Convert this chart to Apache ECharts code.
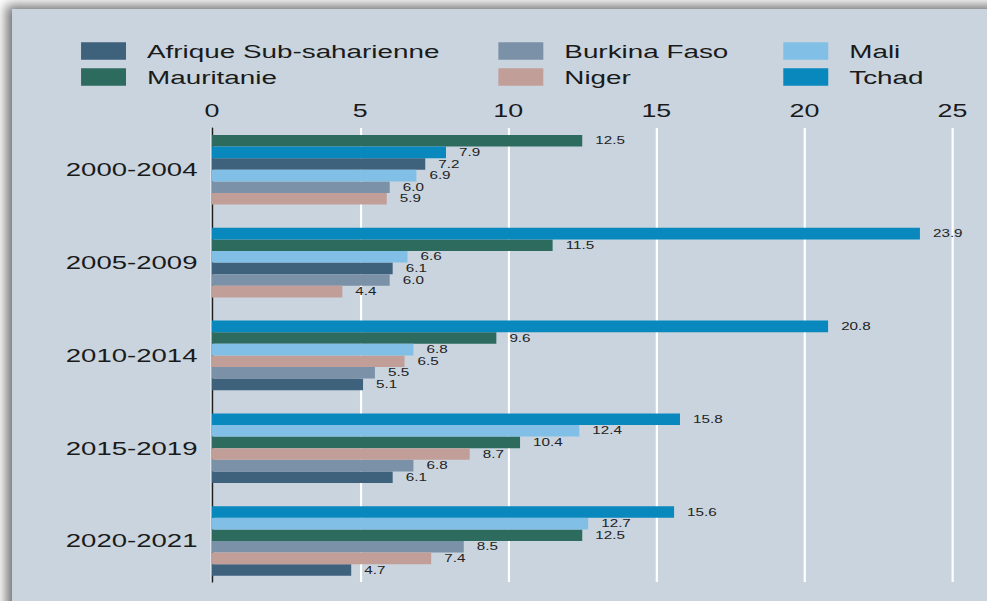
<!DOCTYPE html>
<html>
<head>
<meta charset="utf-8">
<title>Sahel</title>
<script src="https://cdn.jsdelivr.net/npm/echarts@6/dist/echarts.min.js"></script>
<style>
  html, body { margin:0; padding:0; width:987px; height:601px; overflow:hidden; background:#fff; }
  .panel { position:absolute; left:12px; top:9px; width:1000px; height:620px; background:#c9d4df;
           box-shadow:-6px -4px 11px rgba(0,0,0,0.55); }
  /* the original picture is stretched sideways, so the chart is drawn narrow and scaled */
  #chart { position:absolute; left:0; top:0; width:680.7px; height:601px; transform:scaleX(1.45); transform-origin:0 0; }
</style>
</head>
<body>
<div class="panel"></div>
<div id="chart"></div>
<script>
// data
const periods = ['2000-2004', '2005-2009', '2010-2014', '2015-2019', '2020-2021']
const countries = ['Afrique Sub-saharienne', 'Mauritanie', 'Burkina Faso', 'Niger', 'Mali', 'Tchad']
const afrique = [7.2, 6.1, 5.1, 6.1, 4.7]
const mauritanie = [12.5, 11.5, 9.6, 10.4, 12.5]
const burkina = [6.0, 6.0, 5.5, 6.8, 8.5]
const niger = [5.9, 4.4, 6.5, 8.7, 7.4]
const mali = [6.9, 6.6, 6.8, 12.4, 12.7]
const tchad = [7.9, 23.9, 20.8, 15.8, 15.6]
const xTicks = [0, 5, 10, 15, 20, 25]

const values = [afrique, mauritanie, burkina, niger, mali, tchad]
const colors = ['#3e617c', '#2d6b5f', '#7b91a7', '#c19f98', '#82bfe6', '#0888bd']
const font = "'Liberation Sans', Arial, sans-serif"

// each period gets 8 slots: a gap, 6 bars sorted by value, a gap
const SLOTS = 8
const slotCats = []
for (let i = 0; i < periods.length * SLOTS; i++) slotCats.push(String(i))
const seriesData = countries.map(() => new Array(slotCats.length).fill('-'))
periods.forEach((p, g) => {
  const order = countries.map((c, i) => i).sort((a, b) => values[b][g] - values[a][g])
  order.forEach((ci, rank) => { seriesData[ci][g * SLOTS + 1 + rank] = values[ci][g] })
})

const legendBase = {
  orient: 'vertical', top: 41.5, padding: 0, itemGap: 7,
  itemWidth: 31, itemHeight: 17.6, icon: 'rect',
  textStyle: { fontSize: 19.2, lineHeight: 18, color: '#1a1a1a', fontFamily: font, padding: [0, 0, 0, 9.5] }
}

const chart = echarts.init(document.getElementById('chart'), null, { renderer: 'svg' })
chart.setOption({
  animation: false,
  color: colors,
  legend: [
    Object.assign({ left: 55.9, data: ['Afrique Sub-saharienne', 'Mauritanie'] }, legendBase),
    Object.assign({ left: 343.7, data: ['Burkina Faso', 'Niger'] }, legendBase),
    Object.assign({ left: 540.2, data: ['Mali', 'Tchad'] }, legendBase)
  ],
  grid: [
    { left: 146.2, right: 24.1, top: 123.4, bottom: 13.6 },   // bars
    { left: 146.2, right: 24.1, top: 128, bottom: 19 }         // axis lines and grid lines
  ],
  xAxis: [
    { gridIndex: 0, type: 'value', min: 0, max: 25, show: false },
    {
      gridIndex: 1, type: 'value', position: 'top', min: xTicks[0], max: xTicks[xTicks.length - 1], interval: 5,
      axisLine: { show: false }, axisTick: { show: false },
      axisLabel: { fontSize: 18.5, color: '#1a1a1a', fontFamily: font, margin: 8 },
      splitLine: { lineStyle: { color: '#ffffff', width: 1.5 } }
    }
  ],
  yAxis: [
    { gridIndex: 0, type: 'category', data: slotCats, inverse: true, show: false },
    {
      gridIndex: 0, type: 'category', data: periods, inverse: true, position: 'left',
      axisLine: { show: false }, axisTick: { show: false }, splitLine: { show: false },
      axisLabel: { fontSize: 19, color: '#1a1a1a', fontFamily: font, margin: 10 }
    },
    {
      gridIndex: 1, type: 'category', data: [''],
      axisLine: { lineStyle: { color: '#222', width: 1.1 } },
      axisTick: { show: false }, axisLabel: { show: false }, splitLine: { show: false }
    }
  ],
  series: countries.map((name, i) => ({
    name,
    type: 'bar',
    xAxisIndex: 0,
    yAxisIndex: 0,
    data: seriesData[i],
    barWidth: 11.6,
    barGap: '-100%',
    label: {
      show: true, position: 'right', distance: 9,
      fontSize: 10.5, color: '#222', fontFamily: font,
      formatter: p => Number(p.value).toFixed(1)
    }
  }))
})
</script>
</body>
</html>
